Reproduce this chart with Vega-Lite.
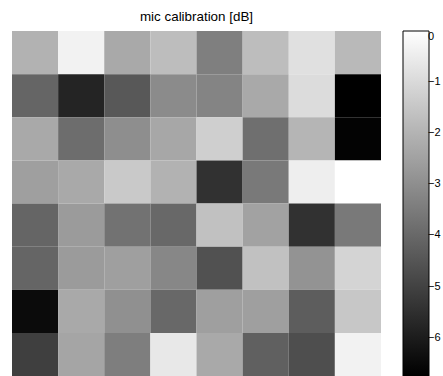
{
  "$schema": "https://vega.github.io/schema/vega-lite/v6.json",
  "autosize": {"type": "none"},
  "padding": {"left": 12, "top": 31, "right": 62, "bottom": 0},
  "width": 369,
  "height": 345,
  "background": "white",
  "title": {"text": "mic calibration [dB]", "font": "Liberation Sans", "fontSize": 13.4, "fontWeight": "normal", "color": "#000000", "offset": 8, "anchor": "middle"},
  "config": {"view": {"stroke": null}},
  "data": {"values": [
    {"row": 1, "col": 1, "v": -2.03}, {"row": 1, "col": 2, "v": -0.35}, {"row": 1, "col": 3, "v": -2.27}, {"row": 1, "col": 4, "v": -1.76}, {"row": 1, "col": 5, "v": -3.39}, {"row": 1, "col": 6, "v": -1.76}, {"row": 1, "col": 7, "v": -0.83}, {"row": 1, "col": 8, "v": -1.84},
    {"row": 2, "col": 1, "v": -4.08}, {"row": 2, "col": 2, "v": -5.81}, {"row": 2, "col": 3, "v": -4.43}, {"row": 2, "col": 4, "v": -3.07}, {"row": 2, "col": 5, "v": -3.25}, {"row": 2, "col": 6, "v": -2.27}, {"row": 2, "col": 7, "v": -0.93}, {"row": 2, "col": 8, "v": -6.75},
    {"row": 3, "col": 1, "v": -2.27}, {"row": 3, "col": 2, "v": -3.87}, {"row": 3, "col": 3, "v": -2.99}, {"row": 3, "col": 4, "v": -2.32}, {"row": 3, "col": 5, "v": -1.28}, {"row": 3, "col": 6, "v": -3.81}, {"row": 3, "col": 7, "v": -1.97}, {"row": 3, "col": 8, "v": -6.68},
    {"row": 4, "col": 1, "v": -2.53}, {"row": 4, "col": 2, "v": -2.27}, {"row": 4, "col": 3, "v": -1.44}, {"row": 4, "col": 4, "v": -2.03}, {"row": 4, "col": 5, "v": -5.44}, {"row": 4, "col": 6, "v": -3.55}, {"row": 4, "col": 7, "v": -0.45}, {"row": 4, "col": 8, "v": 0},
    {"row": 5, "col": 1, "v": -4.08}, {"row": 5, "col": 2, "v": -2.64}, {"row": 5, "col": 3, "v": -3.73}, {"row": 5, "col": 4, "v": -4.0}, {"row": 5, "col": 5, "v": -1.63}, {"row": 5, "col": 6, "v": -2.45}, {"row": 5, "col": 7, "v": -5.44}, {"row": 5, "col": 8, "v": -3.55},
    {"row": 6, "col": 1, "v": -4.08}, {"row": 6, "col": 2, "v": -2.64}, {"row": 6, "col": 3, "v": -2.53}, {"row": 6, "col": 4, "v": -3.17}, {"row": 6, "col": 5, "v": -4.61}, {"row": 6, "col": 6, "v": -1.63}, {"row": 6, "col": 7, "v": -2.85}, {"row": 6, "col": 8, "v": -1.15},
    {"row": 7, "col": 1, "v": -6.45}, {"row": 7, "col": 2, "v": -2.27}, {"row": 7, "col": 3, "v": -2.93}, {"row": 7, "col": 4, "v": -4.0}, {"row": 7, "col": 5, "v": -2.53}, {"row": 7, "col": 6, "v": -2.53}, {"row": 7, "col": 7, "v": -4.29}, {"row": 7, "col": 8, "v": -1.47},
    {"row": 8, "col": 1, "v": -5.09}, {"row": 8, "col": 2, "v": -2.37}, {"row": 8, "col": 3, "v": -3.41}, {"row": 8, "col": 4, "v": -0.61}, {"row": 8, "col": 5, "v": -2.27}, {"row": 8, "col": 6, "v": -4.21}, {"row": 8, "col": 7, "v": -4.69}, {"row": 8, "col": 8, "v": -0.35}
  ]},
  "mark": {"type": "rect", "strokeWidth": 0},
  "encoding": {
    "x": {"field": "col", "type": "ordinal", "axis": null, "scale": {"paddingInner": 0, "paddingOuter": 0}},
    "y": {"field": "row", "type": "ordinal", "axis": null, "scale": {"paddingInner": 0, "paddingOuter": 0}},
    "color": {
      "field": "v", "type": "quantitative",
      "scale": {"domain": [-6.75, 0], "range": ["#000000", "#ffffff"], "interpolate": "rgb"},
      "legend": {
        "orient": "none", "legendX": 391, "legendY": 0, "direction": "vertical",
        "gradientLength": 345, "gradientThickness": 26,
        "gradientStrokeColor": "#000000", "gradientStrokeWidth": 1,
        "values": [0, -1, -2, -3, -4, -5, -6],
        "labelFont": "Liberation Sans", "labelFontSize": 11, "labelColor": "#000000", "labelOffset": -1,
        "labelOverlap": false, "title": null, "padding": 0
      }
    }
  }
}
